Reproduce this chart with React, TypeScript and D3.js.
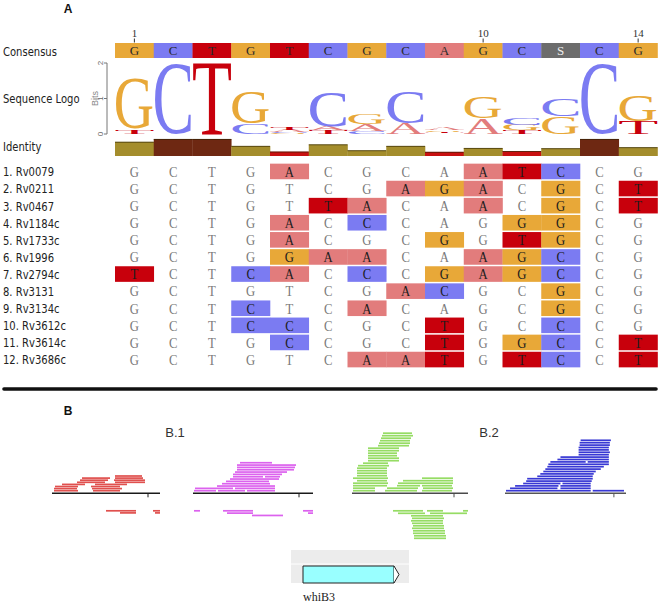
import React from "react";
import * as d3 from "d3";

// ---------------- DATA ----------------
const positions = [1, 2, 3, 4, 5, 6, 7, 8, 9, 10, 11, 12, 13, 14];
const tickPositions = [1, 10, 14];
const consensus = ["G", "C", "T", "G", "T", "C", "G", "C", "A", "G", "C", "S", "C", "G"];
const seqNames = [
  "1. Rv0079", "2. Rv0211", "3. Rv0467", "4. Rv1184c", "5. Rv1733c", "6. Rv1996",
  "7. Rv2794c", "8. Rv3131", "9. Rv3134c", "10. Rv3612c", "11. Rv3614c", "12. Rv3686c",
];
const sequences = [
  "GCTGACGCAATCCG",
  "GCTGTCGAGACGCT",
  "GCTGTTACAACGCT",
  "GCTGACCCAGGGCG",
  "GCTGACGCGGTGCG",
  "GCTGGAACAAGCCG",
  "TCTCACCCGAGCCG",
  "GCTGTCGACGCGCG",
  "GCTCTCACAGCGCG",
  "GCTCCCGCTGCCCG",
  "GCTGCCGCTGGCCT",
  "GCTGTCAATGTCCT",
];
const bitTicks = [0, 1, 2];
const trackTitles = ["B.1", "B.2"];
const geneName = "whiB3";

// reads: [row, start, end] (offset along each track)
const redUp = [[0,2,26],[0,41,68],[1,2,25],[1,40,70],[2,3,26],[2,39,68],[3,10,33],[3,43,75],[4,25,53],[4,63,93],[5,28,56],[5,62,93],[6,30,58],[6,63,91],[7,63,90]];
const redDown = [[0,54,84],[0,101,108],[1,68,84],[1,103,108]];
const magentaUp = [[0,1,23],[0,25,52],[0,54,82],[1,2,40],[1,42,82],[2,24,82],[3,29,77],[4,33,76],[5,37,86],[6,40,70],[6,72,87],[7,40,89],[8,42,94],[9,44,101],[10,44,102],[11,44,103],[12,47,79]];
const magentaDown = [[0,1,7],[0,30,60],[0,110,120],[1,34,60],[1,115,120],[2,59,90]];
const greenUp = [[0,1,23],[0,33,65],[0,70,100],[1,1,23],[1,35,66],[1,71,101],[2,1,35],[2,45,68],[2,70,100],[3,1,36],[3,46,101],[4,5,35],[4,51,101],[5,1,36],[5,70,101],[6,5,35],[7,5,35],[8,5,35],[9,5,35],[10,6,37],[11,11,36],[12,16,47],[13,16,47],[14,16,45],[15,16,45],[16,16,47],[17,16,47],[18,26,57],[19,27,58],[20,28,58],[21,29,59],[22,30,61],[23,31,60]];
const greenDown = [[0,41,71],[0,75,91],[0,111,116],[1,46,73],[1,78,115],[2,59,91],[3,60,92],[4,59,91],[5,60,91],[6,61,92],[7,60,92],[8,61,93],[9,61,93],[10,62,94],[11,62,94]];
const blueUp = [[0,1,85],[0,87,118],[1,5,52],[1,55,85],[2,10,53],[2,55,85],[3,18,55],[3,57,85],[4,21,86],[5,22,87],[6,32,87],[7,35,88],[8,38,90],[9,40,95],[10,42,98],[11,43,103],[12,45,80],[12,82,103],[13,52,103],[14,55,103],[15,73,103],[16,73,104],[17,73,103],[18,73,103],[19,74,104],[20,74,104],[21,75,105]];
const blueDown: number[][] = [];

// ---------------- STYLE / LAYOUT ----------------
const baseColor: Record<string, string> = {
  G: "#e8a838", C: "#7b7bf2", T: "#c8000c", A: "#e27c7c", S: "#6c6c6c",
};
const glyphBox: Record<string, number[]> = {
  A: [15, 706, 0, 674], C: [28, 633, -14, 676], G: [32, 709, -14, 676], T: [17, 593, 0, 662],
};

const x = d3.scaleBand<number>().domain(positions).range([115, 657.5]).padding(0);
const colW = x.bandwidth();
const yRow = d3.scaleBand<string>().domain(seqNames).range([163, 163 + 17.1 * seqNames.length]);
const yBits = d3.scaleLinear().domain([0, 2]).range([134, 63]);
const yIdent = d3.scaleLinear().domain([0, 1]).range([156, 139]);

const columns = positions.map((p, i) => {
  const letters = sequences.map((s) => s[i]);
  const n = letters.length;
  const counts = d3.rollup(letters, (v) => v.length, (d) => d);
  let H = 0;
  let same = 0;
  counts.forEach((c) => {
    const f = c / n;
    H -= f * Math.log2(f);
    same += (c * (c - 1)) / 2;
  });
  const R = 2 - H;
  const ident = same / ((n * (n - 1)) / 2);
  const items = ["T", "G", "C", "A"]
    .filter((b) => counts.has(b))
    .map((b) => ({ b, h: ((counts.get(b) as number) / n) * R }));
  items.sort((a, b) => a.h - b.h);
  let acc = 0;
  const stack = items.map((o) => {
    const y0 = acc;
    acc += o.h;
    return { ...o, y0, y1: acc };
  });
  return { p, ident, stack };
});

function LogoLetter({ b, x0, w, yTop, yBot }: any) {
  const [gx0, gx1, gy0, gy1] = glyphBox[b];
  const h = yBot - yTop;
  if (h < 0.4) return null;
  const sx = w / ((gx1 - gx0) / 10);
  const sy = h / ((gy1 - gy0) / 10);
  return (
    <text
      transform={`translate(${x0 - (gx0 / 10) * sx},${yTop + (gy1 / 10) * sy}) scale(${sx},${sy})`}
      fontFamily="Liberation Serif"
      fontSize={100}
      fill={baseColor[b]}
    >
      {b}
    </text>
  );
}

const tracks = [
  { up: redUp, down: redDown, len: 108, range: [52, 160], tick: 96, color: "#e0504e", axis: "#1a1a1a", dy: 2.1 },
  { up: magentaUp, down: magentaDown, len: 120, range: [193, 313], tick: 106, color: "#dc62ee", axis: "#1a1a1a", dy: 2.33 },
  { up: greenUp, down: greenDown, len: 116, range: [352, 468], tick: 102, color: "#96dc64", axis: "#4a4a4a", dy: 2.5 },
  { up: blueUp, down: blueDown, len: 120, range: [505, 626], tick: 108, color: "#3838d4", axis: "#555", dy: 2.4 },
];
const axisY = 493.3;

const labelFont = "DejaVu Sans";

function SideLabel({ text, y }: { text: string; y: number }) {
  return (
    <text transform={`translate(3,${y}) scale(0.77,1)`} fontFamily={labelFont} fontSize={13} fill="#222">
      {text}
    </text>
  );
}

export default function App() {
  return (
    <div style={{ position: "absolute", left: 0, top: 0 }}>
      <svg width={660} height={603} style={{ display: "block", background: "#fff" }}>
        {/* Panel A */}
        <text x={68} y={12.5} textAnchor="middle" fontFamily="Liberation Sans" fontWeight="bold" fontSize={12} fill="#111">A</text>

        {tickPositions.map((p) => (
          <g key={"t" + p}>
            <text x={(x(p) as number) + colW / 2} y={36.5} textAnchor="middle" fontFamily="Liberation Serif" fontSize={11} fill="#333">{p}</text>
            <line x1={(x(p) as number) + colW / 2} x2={(x(p) as number) + colW / 2} y1={38.5} y2={42.5} stroke="#333" strokeWidth={1} />
          </g>
        ))}

        <SideLabel text="Consensus" y={56} />
        <SideLabel text="Sequence Logo" y={102.5} />
        <SideLabel text="Identity" y={150.5} />

        {/* consensus bar */}
        {consensus.map((b, i) => (
          <g key={"c" + i}>
            <rect x={x(positions[i]) as number} y={43} width={colW + 0.3} height={15} fill={baseColor[b]} />
            <text
              x={(x(positions[i]) as number) + colW / 2}
              y={55}
              textAnchor="middle"
              fontFamily="Liberation Serif"
              fontSize={13}
              fill={b === "S" ? "#eee" : "#2a2a2a"}
            >
              {b}
            </text>
          </g>
        ))}

        {/* bits axis */}
        <line x1={107} x2={107} y1={yBits(2)} y2={yBits(0)} stroke="#777" strokeWidth={1} />
        {bitTicks.map((t) => (
          <g key={"b" + t}>
            <line x1={104} x2={107} y1={yBits(t)} y2={yBits(t)} stroke="#777" strokeWidth={1} />
            <text transform={`translate(103,${yBits(t)}) rotate(-90)`} textAnchor="middle" fontFamily="Liberation Sans" fontSize={8} fill="#666">{t}</text>
          </g>
        ))}
        <text transform={`translate(97.5,${yBits(1)}) rotate(-90)`} textAnchor="middle" fontFamily="Liberation Sans" fontSize={9} fill="#888">Bits</text>

        {/* logo */}
        {columns.map((c) =>
          c.stack.map((s) => (
            <LogoLetter
              key={"l" + c.p + s.b}
              b={s.b}
              x0={(x(c.p) as number) + 0.5}
              w={colW - 1}
              yTop={yBits(s.y1)}
              yBot={yBits(s.y0)}
            />
          ))
        )}

        {/* identity */}
        {columns.map((c) => {
          const col = c.ident >= 0.999 ? "#6e2812" : c.ident >= 0.3 ? "#a48d2c" : "#c81010";
          const yt = yIdent(c.ident);
          return (
            <g key={"i" + c.p}>
              <rect x={x(c.p) as number} y={yt} width={colW + 0.3} height={yIdent(0) - yt} fill={col} />
              <line x1={x(c.p) as number} x2={(x(c.p) as number) + colW} y1={yt + 0.4} y2={yt + 0.4} stroke="#2a2000" strokeOpacity={0.7} strokeWidth={0.9} />
            </g>
          );
        })}

        {/* alignment rows */}
        {seqNames.map((name, r) => {
          const cy = (yRow(name) as number) + yRow.bandwidth() / 2;
          return (
            <g key={"r" + r}>
              <SideLabel text={name} y={cy + 4.8} />
              {sequences[r].split("").map((b, i) => {
                const hl = b !== consensus[i];
                const cx = (x(positions[i]) as number) + colW / 2;
                return (
                  <g key={i}>
                    {hl && (
                      <rect x={x(positions[i]) as number} y={cy - 7.9} width={colW + 0.3} height={15.6} fill={baseColor[b]} />
                    )}
                    <text
                      transform={`translate(${cx},${cy + 5.2}) scale(0.82,1)`}
                      textAnchor="middle"
                      fontFamily="Liberation Serif"
                      fontSize={15.5}
                      fill={hl ? "#1c1c1c" : "#7a7a7a"}
                    >
                      {b}
                    </text>
                  </g>
                );
              })}
            </g>
          );
        })}

        {/* separator */}
        <line x1={4} x2={656} y1={389} y2={389} stroke="#111" strokeWidth={3.6} strokeLinecap="round" />

        {/* Panel B */}
        <text x={68} y={415} textAnchor="middle" fontFamily="Liberation Sans" fontWeight="bold" fontSize={12} fill="#111">B</text>
        <text x={175} y={437} textAnchor="middle" fontFamily="Liberation Sans" fontSize={13} fill="#333">{trackTitles[0]}</text>
        <text x={489} y={437} textAnchor="middle" fontFamily="Liberation Sans" fontSize={13} fill="#333">{trackTitles[1]}</text>

        {tracks.map((t, ti) => {
          const sx = d3.scaleLinear().domain([0, t.len]).range(t.range);
          return (
            <g key={"tr" + ti}>
              {t.up.map(([row, s, e], k) => (
                <rect key={"u" + k} x={sx(s)} y={490.7 - row * t.dy - 0.85} width={sx(e) - sx(s)} height={1.7} fill={t.color} />
              ))}
              {t.down.map(([row, s, e], k) => (
                <rect key={"d" + k} x={sx(s)} y={510.8 + row * t.dy - 0.85} width={sx(e) - sx(s)} height={1.7} fill={t.color} />
              ))}
              <line x1={t.range[0]} x2={t.range[1]} y1={axisY} y2={axisY} stroke={t.axis} strokeWidth={1.5} />
              <line x1={sx(t.tick)} x2={sx(t.tick)} y1={axisY} y2={axisY + 4} stroke={t.axis} strokeWidth={1} />
            </g>
          );
        })}

        {/* gene track */}
        <rect x={291} y={550} width={118} height={33} fill="#ececec" />
        <line x1={291} x2={409} y1={564} y2={564} stroke="#fff" strokeWidth={1} />
        <path d="M303,566 H394 V583 H303 Z" fill="#99ffff" stroke="#222" strokeWidth={1} />
        <path d="M394,566 L399,574.5 L394,583" fill="#fff" stroke="#222" strokeWidth={1} />
        <text x={303} y={601} fontFamily="Liberation Serif" fontSize={12} fill="#222">{geneName}</text>
      </svg>
    </div>
  );
}
